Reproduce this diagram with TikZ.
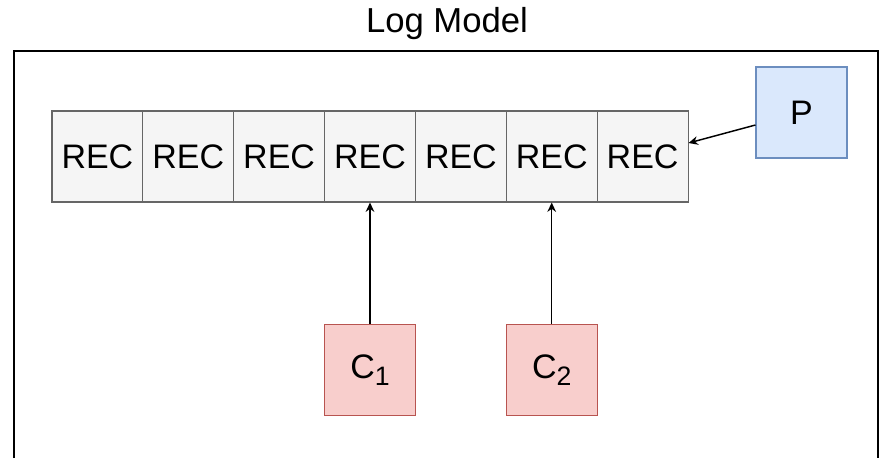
\documentclass[tikz,border=0pt]{standalone}
\usepackage{fontspec}
\setmainfont{Liberation Sans}
\usetikzlibrary{calc}
\usetikzlibrary{arrows.meta}

\definecolor{recfill}{HTML}{F5F5F5}
\definecolor{recline}{HTML}{666666}
\definecolor{prodfill}{HTML}{DAE8FC}
\definecolor{prodline}{HTML}{6C8EBF}
\definecolor{consfill}{HTML}{F8CECC}
\definecolor{consline}{HTML}{B85450}

\newcommand{\csub}[1]{C\raisebox{-5.5pt}{\fontsize{20}{22}\selectfont #1}}

\begin{document}
\begin{tikzpicture}[x=0.75pt,y=-0.75pt]
\tikzset{rec/.style={draw=recline,fill=recfill,line width=0.8pt,minimum width=90.86*0.75pt,minimum height=68.25pt,inner sep=0pt,font=\fontsize{25.5}{28}\selectfont}}
\tikzset{prod/.style={draw=prodline,fill=prodfill,line width=0.8pt,minimum width=68.25pt,minimum height=68.25pt,inner sep=0pt,font=\fontsize{25.5}{28}\selectfont}}
\tikzset{cons/.style={draw=consline,fill=consfill,line width=0.8pt,minimum width=68.25pt,minimum height=68.25pt,inner sep=0pt,font=\fontsize{25.5}{28}\selectfont}}
\tikzset{feed/.style={-{Stealth[length=7pt,width=6.5pt]},black,line width=1.1pt}}
\useasboundingbox (0,0) rectangle (881,458);

% frame and title
\draw[line width=1.2pt] (14,458) -- (14,51) -- (878,51) -- (878,458);
\node (title) at (447,24) [font=\fontsize{26}{30}\selectfont] {Log Model};

% log records
\node (r1) at (97.4,156.5) [rec] {REC};
\node (r2) at (188.3,156.5) [rec] {REC};
\node (r3) at (279.1,156.5) [rec] {REC};
\node (r4) at (370,156.5) [rec] {REC};
\node (r5) at (460.9,156.5) [rec] {REC};
\node (r6) at (551.7,156.5) [rec] {REC};
\node (r7) at (642.6,156.5) [rec] {REC};

% producer and consumers
\node (P) at (801.5,112.5) [prod] {P};
\node (C1) at (370,370) [cons] {\csub{1}};
\node (C2) at (551.7,370) [cons] {\csub{2}};

\path
($(P.west)+(0,12.5)$) edge [feed] ($(r7.east)+(0,-13.5)$)
(C1) edge [feed] (r4)
(C2) edge [feed] (r6);
\end{tikzpicture}
\end{document}
